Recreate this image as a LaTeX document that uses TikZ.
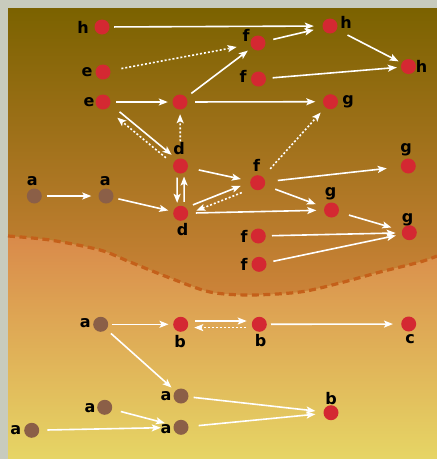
\documentclass[tikz,border=0pt]{standalone}
\usepackage{fontspec}
\setmainfont{DejaVu Sans}
\usetikzlibrary{arrows.meta,calc}
\definecolor{bgray}{HTML}{C8CBBD}
\definecolor{topc}{HTML}{7B6200}
\definecolor{midc}{HTML}{FA965A}
\definecolor{lowtop}{HTML}{D98A4A}
\definecolor{lowbot}{HTML}{E6D565}
\definecolor{dashc}{HTML}{C4601A}
\definecolor{nred}{HTML}{D42832}
\definecolor{nbrown}{HTML}{8B5F47}
\begin{document}
\begin{tikzpicture}[x=1pt,y=-1pt,
  rn/.style={circle,fill=nred,minimum size=15pt,inner sep=0pt},
  bn/.style={circle,fill=nbrown,minimum size=15pt,inner sep=0pt},
  lab/.style={inner sep=0pt,font=\fontsize{16}{16}\selectfont\bfseries},
  sh/.style 2 args={shorten <=#1pt,shorten >=#2pt},
  edge/.style={draw=white,line width=1.6pt,-{Stealth[length=9pt,width=7pt,inset=2pt]},sh={5}{7}},
  dotedge/.style={edge,dash pattern=on 2pt off 2pt}
]
\useasboundingbox (0,0) rectangle (437,459);
% background
\fill[bgray] (0,0) rectangle (437,459);
\shade[top color=topc,bottom color=midc] (8,8) rectangle (437,459);
\shade[top color=lowtop,bottom color=lowbot]
  plot[smooth] coordinates {(8,236) (50,240) (100,250) (130,262) (170,278) (210,292) (250,295) (300,292) (340,283) (380,272) (420,262) (437,256)}
  -- (437,459) -- (8,459) -- cycle;
\draw[dashc,line width=3.2pt,dash pattern=on 7pt off 4.5pt]
  plot[smooth] coordinates {(8,236) (50,240) (100,250) (130,262) (170,278) (210,292) (250,295) (300,292) (340,283) (380,272) (420,262) (437,256)};

% nodes
\node[rn] (h1) at (102,27) {};   \node[lab] (lh1) at (83,27) {h};
\node[rn] (e1) at (103,72) {};   \node[lab] (le1) at (87,72) {e};
\node[rn] (e2) at (103,102) {};  \node[lab] (le2) at (89,102) {e};
\node[rn] (n1) at (180,102) {};
\node[rn] (f1) at (258,43) {};   \node[lab] (lf1) at (246,35) {f};
\node[rn] (f2) at (258.5,79) {}; \node[lab] (lf2) at (243,76) {f};
\node[rn] (h2) at (330,26) {};   \node[lab] (lh2) at (346,22) {h};
\node[rn] (h3) at (408.5,66.5) {}; \node[lab] (lh3) at (421.5,66) {h};
\node[rn] (g1) at (330.5,101.7) {}; \node[lab] (lg1) at (348,102) {g};
\node[rn] (d1) at (180.5,166) {}; \node[lab] (ld1) at (179,148.5) {d};
\node[rn] (d2) at (180.7,213.3) {}; \node[lab] (ld2) at (182.5,230) {d};
\node[bn] (a1) at (34.3,196) {};  \node[lab] (la1) at (32.3,181.3) {a};
\node[bn] (a2) at (106,196) {};   \node[lab] (la2) at (105.3,181.3) {a};
\node[rn] (f3) at (257.7,182.7) {}; \node[lab] (lf3) at (256.7,165) {f};
\node[rn] (g2) at (408.3,166) {}; \node[lab] (lg2) at (406,149.3) {g};
\node[rn] (g3) at (331.5,210) {}; \node[lab] (lg3) at (330.7,193.3) {g};
\node[rn] (g4) at (409.3,232.7) {}; \node[lab] (lg4) at (407.7,219.3) {g};
\node[rn] (f4) at (258.3,236) {}; \node[lab] (lf4) at (244,236.7) {f};
\node[rn] (f5) at (259,264.3) {}; \node[lab] (lf5) at (244,264) {f};
\node[bn] (a3) at (100.7,324.3) {}; \node[lab] (la3) at (85.3,323.3) {a};
\node[rn] (b1) at (180.7,324.3) {}; \node[lab] (lb1) at (180,341.7) {b};
\node[rn] (b2) at (259.3,324.3) {}; \node[lab] (lb2) at (260.7,341) {b};
\node[rn] (c1) at (408.7,324) {}; \node[lab] (lc1) at (410,339) {c};
\node[bn] (a4) at (181,396) {};   \node[lab] (la4) at (166,396) {a};
\node[bn] (a5) at (104.7,407.3) {}; \node[lab] (la5) at (90,408) {a};
\node[bn] (a6) at (181,427.3) {}; \node[lab] (la6) at (166,428.7) {a};
\node[bn] (a7) at (31.7,430.3) {}; \node[lab] (la7) at (15.7,430) {a};
\node[rn] (b3) at (331,412.7) {}; \node[lab] (lb3) at (331,399) {b};

% edges
\draw[edge,sh={4.5}{8.5}] (h1) -- (h2);
\draw[edge,sh={8}{9}] (f1) -- (h2);
\draw[edge,sh={12}{3.5}] (h2) -- (h3);
\draw[edge,sh={6.5}{4}] (f2) -- (h3);
\draw[edge,sh={5.5}{4.5}] (e2) -- (n1);
\draw[edge,sh={6.5}{5}] (n1) -- (f1);
\draw[edge,sh={7.5}{7.5}] (n1) -- (g1);
\draw[dotedge,sh={11}{14}] (e1) -- (f1);
\draw[dotedge,sh={17}{4.5}] (d1) -- (n1);
\draw[dotedge,sh={11}{7}] (f3) -- (g1);
\draw[edge,sh={19}{14}] ($(e2)+(1.9,-2.3)$) -- ($(d1)+(1.9,-2.3)$);
\draw[dotedge,sh={16.5}{21}] ($(d1)+(-1.9,2.3)$) -- ($(e2)+(-1.9,2.3)$);
\draw[edge,sh={11.5}{10.5}] ($(d1)+(-3.5,0)$) -- ($(d2)+(-3.5,0)$);
\draw[edge,sh={11.5}{10.5}] ($(d2)+(3.5,0)$) -- ($(d1)+(3.5,0)$);
\draw[edge,sh={11}{9.5}] (d1) -- (f3);
\draw[edge,sh={14.5}{17}] ($(d2)+(-1.2,-3.1)$) -- ($(f3)+(-1.2,-3.1)$);
\draw[dotedge,sh={18.5}{15.5}] ($(f3)+(1.2,3.1)$) -- ($(d2)+(1.2,3.1)$);
\draw[edge,sh={7.5}{7.5}] (d2) -- (g3);
\draw[edge,sh={4.5}{7}] (a1) -- (a2);
\draw[edge,sh={5}{5}] (a2) -- (d2);
\draw[edge,sh={12.5}{14}] (f3) -- (g2);
\draw[edge,sh={11}{9}] (f3) -- (g3);
\draw[edge,sh={10.5}{11}] (g3) -- (g4);
\draw[edge,sh={6}{6}] (f4) -- (g4);
\draw[edge,sh={7}{6}] (f5) -- (g4);
\draw[edge,sh={3.5}{4.5}] (a3) -- (b1);
\draw[edge,sh={14.3}{12.6}] ($(b1)+(0,-3.3)$) -- ($(b2)+(0,-3.3)$);
\draw[dotedge,sh={13.3}{13.6}] ($(b2)+(0,3.3)$) -- ($(b1)+(0,3.3)$);
\draw[edge,sh={4}{8}] (b2) -- (c1);
\draw[edge,sh={6}{5}] (a3) -- (a4);
\draw[edge,sh={9}{9}] (a5) -- (a6);
\draw[edge,sh={8}{12.5}] (a7) -- (a6);
\draw[edge,sh={5}{8}] (a4) -- (b3);
\draw[edge,sh={10}{8}] (a6) -- (b3);
\end{tikzpicture}
\end{document}
